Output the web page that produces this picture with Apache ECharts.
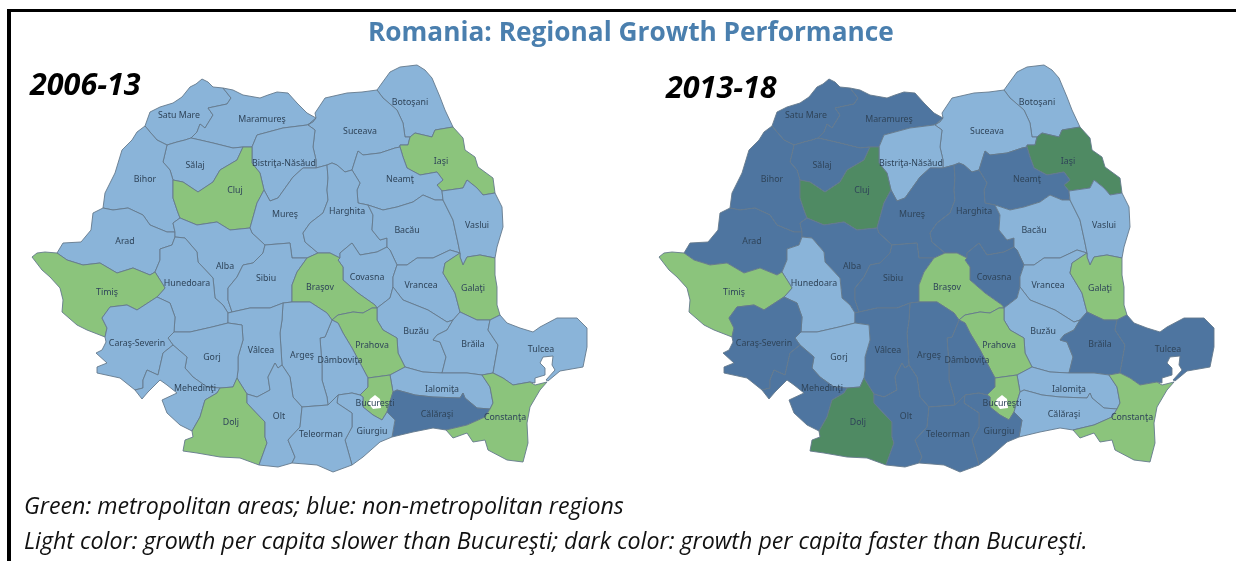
<!DOCTYPE html>
<html>
<head>
<meta charset="utf-8">
<title>Romania: Regional Growth Performance</title>
<script src="https://cdn.jsdelivr.net/npm/echarts@6/dist/echarts.min.js"></script>
<style>
  html, body { margin: 0; padding: 0; background: #fff; }
  #chart { width: 1236px; height: 561px; }
</style>
</head>
<body>
<div id="chart"></div>
<script type="text/javascript">
var titleText = 'Romania: Regional Growth Performance';
var periods = ['2006-13', '2013-18'];
var notes = [
  'Green: metropolitan areas; blue: non-metropolitan regions',
  'Light color: growth per capita slower than Bucureşti; dark color: growth per capita faster than Bucureşti.'
];

// county classes: 0 light blue, 1 dark blue, 2 light green, 3 dark green, 4 blank
var counties = ['Satu Mare', 'Maramureş', 'Botoşani', 'Suceava', 'Sălaj', 'Bistriţa-Năsăud', 'Iaşi', 'Bihor', 'Cluj', 'Neamţ', 'Mureş', 'Harghita', 'Bacău', 'Vaslui', 'Arad', 'Alba', 'Sibiu', 'Hunedoara', 'Timiş', 'Covasna', 'Braşov', 'Vrancea', 'Galaţi', 'Buzău', 'Brăila', 'Prahova', 'Dâmboviţa', 'Argeş', 'Vâlcea', 'Gorj', 'Caraş-Severin', 'Mehedinţi', 'Tulcea', 'Ialomiţa', 'Ilfov', 'Bucureşti', 'Călăraşi', 'Constanţa', 'Dolj', 'Olt', 'Giurgiu', 'Teleorman'];
var class2006 = [0, 0, 0, 0, 0, 0, 2, 0, 2, 0, 0, 0, 0, 0, 0, 0, 0, 0, 2, 0, 2, 0, 2, 0, 0, 2, 0, 0, 0, 0, 0, 0, 0, 0, 2, 4, 1, 2, 2, 0, 0, 0];
var class2013 = [1, 1, 0, 0, 1, 0, 3, 1, 3, 1, 1, 1, 0, 0, 1, 1, 1, 0, 2, 1, 2, 0, 2, 0, 1, 2, 1, 1, 1, 0, 1, 1, 1, 0, 2, 4, 0, 2, 3, 1, 1, 1];
var classColors = ['#8ab4d9', '#4e75a0', '#8bc47c', '#4f8a63', '#ffffff'];

// label anchor of each county, same order as counties
var labelAt = [[179,115],[262,119],[410,102],[360,131],[195,165],[284,163],[441,161],[145,179],[235,190],[400,179],[285,214],[347,211],[407,230],[477,225],[125,241],[225,266],[266,278],[187,283],[107,292],[367,277],[320,287],[421,285],[473,288],[416,331],[473,344],[372,345],[340,360],[302,355],[261,350],[212,357],[137,343],[195,388],[541,349],[442,389],[375,340],[375,403],[437,414],[505,417],[231,422],[279,416],[372,431],[321,434]];

// shared county borders
var borders = {
  c_sm: '145 126 150 112 160 107 173 103 182 97 190 87 196 84 202 79 208 82 213 87 223 88',
  c_ma: '223 88 233 90 243 95 260 98 268 95 277 92 288 93 297 103 307 113 316 118',
  c_su: '316 118 315 113 325 98 347 93 362 92 377 90',
  c_bt: '377 90 382 83 390 72 400 67 417 65 425 70 432 78 440 97 445 110 453 127',
  c_is: '453 127 463 138 465 150 475 157 478 167 493 178 495 193',
  c_vs: '495 193 502 207 503 227 497 247 495 258',
  c_gl: '495 258 495 275 497 287 497 305 500 315',
  c_tl: '500 315 507 323 520 328 533 332 540 327 557 318 577 318 587 328 587 347 583 367 560 371 548 381 546 380 555 370 552 365 553 356 543 357 540 363 545 368 545 375 535 378 535 383 530 382',
  c_ct: '530 382 535 385 547 382 540 390 530 407 527 423 528 443 523 462 507 460 488 450 485 440 473 442 467 433 453 438 446 430',
  c_cl: '446 430 433 428 413 432 392 437',
  c_gr: '392 437 380 442 363 457 352 465',
  c_tr: '352 465 333 472 317 465 305 464 292 463',
  c_ot: '292 463 278 467 259 465',
  c_dj: '259 465 240 458 220 457 197 453 183 451 185 440 193 437 192 431',
  c_mh: '192 431 180 425 167 413 162 400 177 393 167 385 160 380 148 392 142 399 135 390',
  c_cs: '135 390 120 378 97 373 97 367 107 363 96 353 102 350 106 342 105 337',
  c_tm: '105 337 87 330 77 325 62 312 63 300 60 288 50 277 42 270 32 257 37 253 45 252 57 253',
  c_ar: '57 253 63 243 81 242 91 230 93 213 103 208',
  c_bi: '103 208 105 193 110 183 115 173 122 150 132 140 137 132 145 126',
  sm_bi: '145 126 150 132 157 140 167 145',
  sm_sa: '167 145 177 142 185 140 191 138',
  sm_ma: '223 88 231 98 227 104 208 108 213 115 205 128 200 124 197 132 191 138',
  ma_sa: '191 138 200 140 213 143 233 148 243 147',
  ma_cj: '243 147 252 147',
  ma_bn: '252 147 257 135 283 128 307 125 313 122 316 118',
  bn_su: '316 118 308 125 315 130 313 147 316 160 316 168',
  bn_mu: '264 190 270 201 278 198 293 177 303 168 316 168',
  su_mu: '316 168 327 165',
  su_ha: '327 165 332 163 337 165 345 172 352 170',
  su_ne: '352 170 358 151 363 155 380 153 395 148 400 147',
  su_is: '400 147 400 145 408 145 410 137',
  su_bt: '377 90 383 98 397 110 403 123 405 137 410 137',
  bt_is: '410 137 415 133 432 137 435 130 453 127',
  is_ne: '400 147 403 157 407 168 420 175 437 172 443 180 437 185 442 191',
  is_vs: '442 191 463 188 467 180 477 188 483 195 495 193',
  ne_vs: '442 191 443 200',
  ne_ba: '443 200 435 200 423 195 413 202 397 207 383 210 368 205',
  ne_ha: '368 205 358 203 357 190 360 183 352 170',
  ha_ba: '368 205 373 215 372 230 380 240 387 238 387 247',
  ba_vs: '443 200 453 220 458 243 460 253',
  vs_gl: '460 253 460 257 463 265 467 257 480 255 495 258',
  ba_vr: '460 253 450 250 433 258 417 258 407 265 397 265',
  ba_co: '397 265 390 250 387 247',
  ha_co: '387 247 377 252 360 255 352 243 340 253 340 258',
  ha_br: '340 258 330 253 318 253',
  ha_mu: '318 253 305 242 303 233 310 223 323 213 328 200 327 190 328 178 327 165',
  mu_br: '318 253 307 258',
  mu_si: '307 258 292 258 290 243 265 245',
  mu_al: '265 245 252 233 250 228',
  mu_cj: '250 228 257 203 264 190',
  bn_cj: '264 190 260 173 252 163 252 147',
  sa_cj: '243 147 237 160 220 170 213 182 198 192 183 182 173 180',
  sa_bi: '173 180 170 170 163 162 167 145',
  cj_bi: '173 180 173 198 177 210 180 218',
  cj_al: '180 218 197 225 217 222 230 230 250 228',
  al_bi: '180 218 173 223 175 232',
  bi_ar: '103 208 113 210 128 208 143 215 150 225 167 232 175 232',
  ar_al: '175 232 175 237',
  al_hu: '175 237 185 238 197 252 198 262 213 278 215 298 223 305 228 313',
  al_si: '265 245 263 253 253 263 243 265 237 277 228 288 228 300 232 312',
  al_va: '232 312 228 313',
  ar_hu: '175 237 172 245 160 249 160 260 155 272',
  ar_tm: '57 253 67 260 83 265 100 263 117 273 133 268 150 275 155 272',
  tm_hu: '155 272 162 283 165 288 157 297',
  tm_cs: '157 297 137 310 127 305 110 307 102 318 107 328 105 337',
  hu_cs: '157 297 170 303 175 317 174 332',
  hu_go: '174 332 190 332 212 327 228 323',
  hu_va: '228 323 228 313',
  cs_go: '174 332 168 338 173 345',
  cs_mh: '173 345 163 353 158 375 147 370 143 380 143 388 135 390',
  go_mh: '173 345 187 357 185 368 193 377 207 387 220 388',
  mh_dj: '192 431 200 417 205 400 217 393 220 388',
  go_dj: '220 388 233 387 237 378',
  go_va: '228 323 242 325 243 340 238 357 238 370 237 378',
  va_dj: '237 378 240 383 247 394',
  dj_ot: '247 394 247 403 265 422 265 437 267 443 259 465',
  va_ot: '247 394 257 397 270 390 268 377 275 363 278 368 282 365',
  va_ag: '283 303 282 320 280 333 282 365',
  si_va: '232 312 250 308 270 308 283 303',
  si_ag: '283 303 292 302',
  si_br: '292 302 292 285 297 272 307 258',
  ag_br: '292 302 310 302 327 313 332 320',
  ag_db: '332 320 325 337 320 338 322 365 322 380 327 397 328 405',
  ag_ot: '282 365 290 377 293 397 302 407',
  ag_tr: '302 407 328 405',
  ot_tr: '302 407 300 427 288 440 295 457 292 463',
  db_tr: '328 405 338 395',
  db_gr: '338 395 352 393 360 395',
  db_il: '360 395 368 387 368 378',
  db_pr: '332 320 338 323 343 333 352 348 360 363 368 378',
  br_pr: '332 320 338 315 353 312 363 313 372 308 377 308',
  br_co: '340 258 338 260 343 267 343 280 358 293 375 305 377 308',
  co_bz: '377 308 390 298 393 287',
  co_vr: '393 287 393 277 397 265',
  vr_bz: '393 287 403 300 428 310 447 322 453 320',
  vr_br: '453 320 460 312',
  vr_gl: '460 253 445 263 443 273 455 293 460 312',
  gl_br: '460 312 477 320 490 320',
  gl_tl: '490 320 500 315',
  bz_br: '453 320 447 330 437 335 433 340 440 342 446 357 442 373',
  bz_ia: '405 367 423 372 442 373',
  bz_pr: '377 308 377 320 383 330 397 338 398 353 405 367',
  pr_if: '368 378 390 375',
  pr_ia: '390 375 405 367',
  br_ia: '442 373 467 373 482 375',
  br_tl: '490 320 488 330 498 345 493 373',
  br_ct: '482 375 493 373',
  tl_ct: '493 373 503 378 513 385 530 382',
  ia_ct: '482 375 490 387 493 403 490 409',
  ia_cl: '393 392 397 390 408 393 415 395 433 397 460 398 463 393 465 398 477 408 490 409',
  ia_if: '390 375 393 392',
  cl_if: '393 392 387 412',
  cl_gr: '387 412 395 420 392 437',
  cl_ct: '490 409 485 417 467 425 446 430',
  gr_if: '360 395 363 397 363 407 373 415 382 420 387 412',
  gr_tr: '338 395 337 403 352 413 352 427 345 440 352 465',
  bucuresti: '368 403 370 399 375 395 380 399 381 408 373 409 368 403'
};

// which borders close each county, '-' walks a border backwards
var rings = [
  'c_sm sm_ma -sm_sa -sm_bi',
  'c_ma -ma_bn -ma_cj -ma_sa -sm_ma',
  'c_bt -bt_is -su_bt',
  'c_su su_bt -su_is -su_ne -su_ha -su_mu -bn_su',
  'sm_sa ma_sa sa_cj sa_bi',
  'ma_bn bn_su -bn_mu bn_cj',
  'c_is -is_vs -is_ne su_is bt_is',
  'c_bi sm_bi -sa_bi cj_bi al_bi -bi_ar',
  'ma_cj -bn_cj -mu_cj -cj_al -cj_bi -sa_cj',
  'su_ne is_ne ne_vs ne_ba ne_ha',
  '-ha_mu mu_br mu_si mu_al mu_cj bn_mu su_mu',
  'su_ha -ne_ha ha_ba ha_co ha_br ha_mu',
  '-ne_ba ba_vs ba_vr ba_co -ha_ba',
  'c_vs -vs_gl -ba_vs -ne_vs is_vs',
  'c_ar bi_ar ar_al ar_hu -ar_tm',
  'cj_al -mu_al al_si al_va -al_hu -ar_al -al_bi',
  '-al_si -mu_si -si_br -si_ag -si_va',
  '-ar_hu al_hu -hu_va -hu_go -hu_cs -tm_hu',
  'c_tm ar_tm tm_hu tm_cs',
  '-ha_co -ba_co -co_vr -co_bz -br_co',
  'si_br -mu_br -ha_br br_co -br_pr -ag_br',
  '-ba_vr vr_gl -vr_br -vr_bz co_vr',
  'c_gl -gl_tl -gl_br -vr_gl vs_gl',
  'co_bz vr_bz bz_br -bz_ia -bz_pr',
  'gl_br br_tl -br_ct -br_ia -bz_br vr_br',
  'br_pr bz_pr -pr_ia -pr_if -db_pr',
  'db_pr -db_il -db_gr -db_tr -ag_db',
  'si_ag ag_br ag_db -ag_tr -ag_ot -va_ag',
  'si_va va_ag -va_ot -va_dj -go_va hu_va -al_va',
  'hu_go go_va -go_dj -go_mh -cs_go',
  'hu_cs cs_go cs_mh c_cs -tm_cs',
  'c_mh -cs_mh go_mh -mh_dj',
  'c_tl -tl_ct -br_tl gl_tl',
  'bz_ia br_ia ia_ct -ia_cl -ia_if pr_ia',
  'pr_if ia_if cl_if -gr_if db_il',
  'bucuresti',
  'ia_cl cl_ct c_cl -cl_gr -cl_if',
  'br_ct tl_ct c_ct -cl_ct -ia_ct',
  'mh_dj go_dj va_dj dj_ot c_dj',
  'va_ot ag_ot ot_tr c_ot -dj_ot',
  'db_gr gr_if cl_gr c_gr -gr_tr',
  'ag_tr db_tr gr_tr c_tr -ot_tr'
];

function borderPoints(key) {
  var back = key.charAt(0) === '-';
  var nums = borders[back ? key.slice(1) : key].split(' ').map(Number);
  var pts = [];
  for (var i = 0; i < nums.length; i += 2) {
    pts.push([nums[i], -nums[i + 1]]);
  }
  return back ? pts.reverse() : pts;
}

function ringPoints(ring) {
  var pts = [];
  ring.split(' ').forEach(function (key) {
    pts = pts.concat(borderPoints(key).slice(pts.length ? 1 : 0));
  });
  return pts;
}

var romania = {
  type: 'FeatureCollection',
  features: counties.map(function (name, i) {
    return {
      type: 'Feature',
      properties: { name: name, cp: [labelAt[i][0], -labelAt[i][1]] },
      geometry: { type: 'Polygon', coordinates: [ringPoints(rings[i])] }
    };
  })
};

function buildData(classes) {
  return counties.map(function (name, i) {
    var item = { name: name, value: classes[i] };
    if (name === 'Ilfov') {
      item.label = { show: false };
    }
    if (name === 'Bucureşti') {
      item.itemStyle = { borderColor: '#ffffff', borderWidth: 0 };
    }
    return item;
  });
}

function buildSeries(mapName, classes, left) {
  return {
    type: 'map',
    map: mapName,
    silent: true,
    aspectScale: 1,
    boundingCoords: [[0, 0], [600, -490]],
    left: left,
    top: 0,
    width: 600,
    height: 490,
    roam: false,
    label: {
      show: true,
      fontFamily: 'Noto Sans',
      fontSize: 8.8,
      color: '#2f4459'
    },
    itemStyle: { borderColor: '#64798c', borderWidth: 0.9 },
    emphasis: { disabled: true },
    select: { disabled: true },
    data: buildData(classes)
  };
}

echarts.registerMap('romania2006', romania);
echarts.registerMap('romania2013', romania);

var myChart = echarts.init(document.getElementById('chart'), null, { renderer: 'canvas' });
myChart.setOption({
  animation: false,
  backgroundColor: '#ffffff',
  title: [
    { text: titleText, left: 368, top: 21, padding: 0, textStyle: { fontFamily: 'Open Sans', fontWeight: 'bold', fontSize: 26.25, color: '#4a7fae' } },
    { text: periods[0], left: 30, top: 71, padding: 0, textStyle: { fontFamily: 'Open Sans', fontWeight: 'bold', fontStyle: 'italic', fontSize: 30.5, color: '#000' } },
    { text: periods[1], left: 666, top: 74, padding: 0, textStyle: { fontFamily: 'Open Sans', fontWeight: 'bold', fontStyle: 'italic', fontSize: 30.5, color: '#000' } },
    { text: notes[0], left: 24, top: 496, padding: 0, textStyle: { fontFamily: 'Open Sans', fontWeight: 'normal', fontStyle: 'italic', fontSize: 23.2, color: '#111' } },
    { text: notes[1], left: 24, top: 531, padding: 0, textStyle: { fontFamily: 'Open Sans', fontWeight: 'normal', fontStyle: 'italic', fontSize: 23.2, color: '#111' } }
  ],
  visualMap: {
    show: false,
    type: 'piecewise',
    seriesIndex: [0, 1],
    pieces: classColors.map(function (c, i) {
      return { value: i, color: c };
    })
  },
  // frame only has a top and a left rule
  graphic: [
    { type: 'rect', silent: true, z: 10, shape: { x: 7, y: 9, width: 1229, height: 3 }, style: { fill: '#000' } },
    { type: 'rect', silent: true, z: 10, shape: { x: 7, y: 9, width: 4, height: 552 }, style: { fill: '#000' } }
  ],
  series: [
    buildSeries('romania2006', class2006, 0),
    buildSeries('romania2013', class2013, 627)
  ]
});
</script>
</body>
</html>
